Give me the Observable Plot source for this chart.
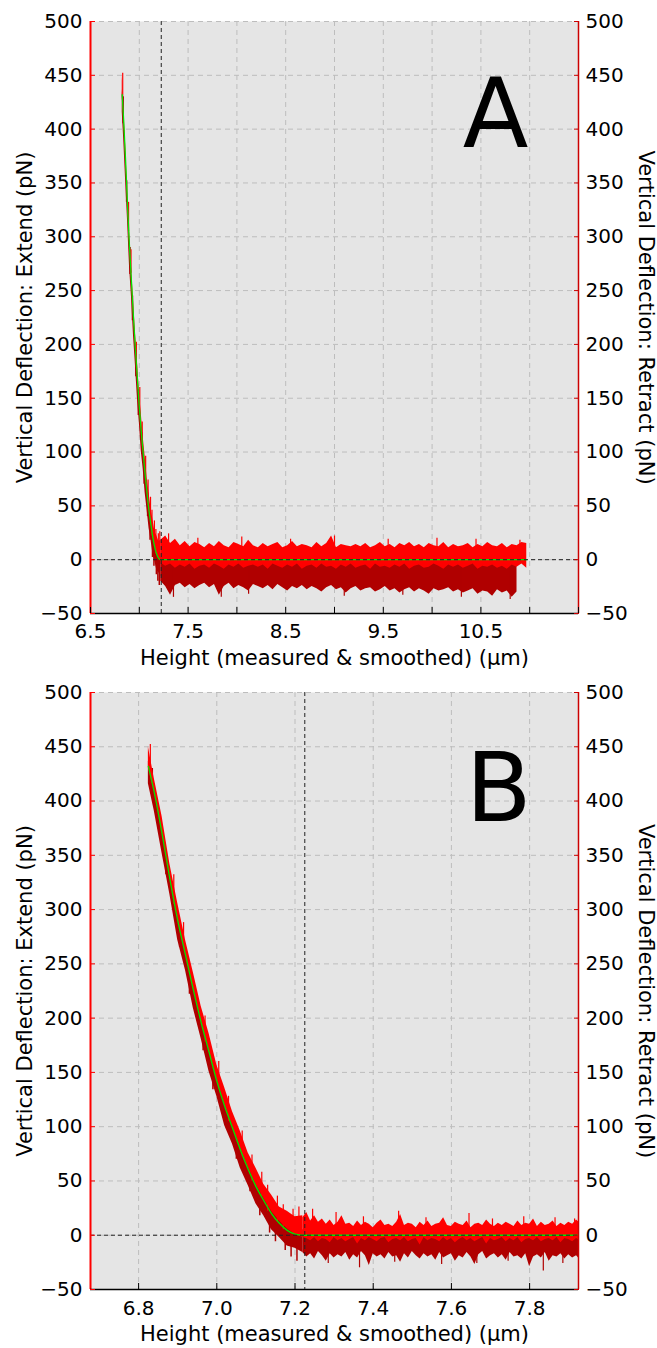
<!DOCTYPE html>
<html><head><meta charset="utf-8">
<script src="https://cdn.jsdelivr.net/npm/d3@7"></script>
<script src="https://cdn.jsdelivr.net/npm/@observablehq/plot@0.6"></script>
<style>
body{margin:0;background:#fff;}
#chart svg{display:block;}
</style>
</head><body><div id="chart"></div>
<script>
// ---------- axes ----------
const yTicks = [-50, 0, 50, 100, 150, 200, 250, 300, 350, 400, 450, 500];
const yDomain = [-50, 500];
const xDomainA = [6.5, 11.5];
const xTickMarksA = [6.5, 7.0, 7.5, 8.0, 8.5, 9.0, 9.5, 10.0, 10.5, 11.0, 11.5];
const xLabelsA = [6.5, 7.5, 8.5, 9.5, 10.5];
const xDomainB = [6.677, 7.925];
const xTickMarksB = [6.8, 7.0, 7.2, 7.4, 7.6, 7.8];
const xLabelsB = [6.8, 7.0, 7.2, 7.4, 7.6, 7.8];
const contactX = 7.225;
const titleX = "Height (measured & smoothed) (µm)";
const titleYL = "Vertical Deflection: Extend (pN)";
const titleYR = "Vertical Deflection: Retract (pN)";

// ---------- approach region (shared) ----------
const apX      = [6.825, 6.84, 6.86, 6.88, 6.90, 6.92, 6.94, 6.96, 6.98, 7.00, 7.02, 7.04, 7.06, 7.08, 7.10, 7.12, 7.14, 7.16, 7.18, 7.20, 7.22];
const apDarkLo = [416, 391, 352, 314, 272, 244, 209, 181, 151, 128, 101, 84, 62, 46, 29, 18, 5, -2, -10, -12, -16];
const apDarkHi = [437, 414, 376, 334, 296, 263, 232, 202, 175, 148, 125, 105, 85, 67, 51, 38, 26, 17, 11, 7, 5];
const apBrLo   = [430, 409, 372, 330, 292, 259, 228, 198, 171, 144, 121, 101, 81, 63, 47, 34, 22, 13, 6, 1, -2];
const apBrHi   = [450, 421, 386, 342, 306, 272, 242, 211, 186, 157, 136, 114, 96, 76, 62, 47, 37, 26, 22, 17, 18];
// approach noise spikes (x, low end, high end)
const apSpDkX  = [6.835, 6.87, 6.905, 6.93, 6.965, 6.99, 7.025, 7.05, 7.085, 7.11, 7.135, 7.15, 7.175, 7.19, 7.205];
const apSpDkLo = [405, 332, 265, 222, 170, 134, 98, 70, 40, 18, 2, -6, -14, -20, -24];
const apSpDkHi = [430, 352, 290, 245, 192, 158, 118, 92, 62, 40, 24, 18, 8, 5, 3];
const apSpBrX  = [6.83, 6.89, 6.915, 6.97, 7.005, 7.03, 7.065, 7.09, 7.115, 7.13, 7.155, 7.17, 7.195, 7.21];
const apSpBrLo = [430, 305, 266, 178, 135, 105, 72, 50, 36, 22, 12, 5, 2, 0];
const apSpBrHi = [452, 332, 288, 202, 160, 128, 96, 74, 58, 46, 36, 28, 24, 26];

// ---------- fit (green) ----------
const fitX = [6.825, 6.84, 6.86, 6.88, 6.90, 6.92, 6.94, 6.96, 6.98, 7.00, 7.02, 7.04, 7.06, 7.08, 7.10, 7.12, 7.14, 7.16, 7.18, 7.20, 7.22, 10.97];
const fitY = [432, 408, 370, 328, 290, 258, 226, 196, 169, 142, 119, 99, 79, 61, 45, 32, 20, 11, 4.5, 1, 0, 0];

// ---------- baseline, panel B (fine) ----------
const tbX = [7.22,7.23,7.24,7.25,7.26,7.27,7.28,7.29,7.30,7.31,
  7.32,7.33,7.34,7.35,7.36,7.37,7.38,7.39,7.40,7.41,
  7.42,7.43,7.44,7.45,7.46,7.47,7.48,7.49,7.50,7.51,
  7.52,7.53,7.54,7.55,7.56,7.57,7.58,7.59,7.60,7.61,
  7.62,7.63,7.64,7.65,7.66,7.67,7.68,7.69,7.70,7.71,
  7.72,7.73,7.74,7.75,7.76,7.77,7.78,7.79,7.80,7.81,
  7.82,7.83,7.84,7.85,7.86,7.87,7.88,7.89,7.90,7.91,
  7.92,7.93];
const tbBrHi = [16,21,13,18,12,15,10,14,9,12, 18,10,11,8,13,9,12,10,7,11, 14,9,10,8,12,19,9,11,10,7,
  12,9,13,8,10,11,16,9,8,12, 10,9,13,7,10,11,9,14,10,8, 11,9,12,10,8,13,9,11,10,15,
  8,12,9,10,13,8,11,9,12,10, 14,11];
const tbBrLo = [-2,-3,-5,-2,-6,-3,-4,-7,-2,-5, -3,-6,-4,-2,-8,-3,-5,-2,-4,-6, -3,-2,-7,-4,-3,-5,-2,-6,-4,-3,
  -9,-2,-5,-3,-4,-6,-2,-5,-3,-7, -4,-2,-5,-3,-6,-4,-2,-8,-3,-5, -4,-2,-6,-3,-5,-2,-7,-4,-3,-5,
  -2,-6,-4,-3,-5,-2,-7,-3,-4,-6, -3,-5];
const tbDkHi = [5,4,6,3,4,2,5,3,4,2, 3,1,4,2,3,1,2,4,1,3, 2,0,3,1,2,4,1,2,0,3,
  1,2,0,3,1,2,0,1,3,2, 0,2,1,3,0,2,1,0,2,1, 3,0,2,1,0,2,1,3,0,2,
  1,0,2,1,3,0,2,1,0,2, 1,0];
const tbDkLo = [-16,-20,-17,-22,-15,-19,-24,-17,-21,-18, -20,-16,-23,-18,-21,-15,-19,-28,-17,-20,
  -18,-22,-16,-20,-19,-25,-17,-21,-15,-19, -22,-17,-20,-18,-23,-16,-21,-19,-17,-24,
  -19,-21,-16,-20,-27,-18,-15,-22,-19,-17, -21,-18,-23,-16,-20,-19,-22,-17,-29,-20,
  -18,-21,-16,-24,-19,-20,-17,-22,-18,-21, -19,-23];
const spBrBx = [7.245, 7.305, 7.375, 7.465, 7.535, 7.645, 7.705, 7.785, 7.865, 7.915];
const spBrBy = [24, 21, 17, 22, 16, 20, 15, 17, 16, 15];
const spDkBx = [7.285, 7.365, 7.455, 7.575, 7.665, 7.745, 7.835, 7.885];
const spDkBy = [-26, -30, -25, -27, -26, -24, -33, -26];

// ---------- baseline, panel A (coarse) ----------
const taX = [7.22,7.27,7.32,7.37,7.42,7.47,7.52,7.57,7.62,7.67,
  7.72,7.77,7.82,7.87,7.92,7.97,8.02,8.07,8.12,8.17,
  8.22,8.27,8.32,8.37,8.42,8.47,8.52,8.57,8.62,8.67,
  8.72,8.77,8.82,8.87,8.92,8.97,9.02,9.07,9.12,9.17,
  9.22,9.27,9.32,9.37,9.42,9.47,9.52,9.57,9.62,9.67,
  9.72,9.77,9.82,9.87,9.92,9.97,10.02,10.07,10.12,10.17,
  10.22,10.27,10.32,10.37,10.42,10.47,10.52,10.57,10.62,10.67,
  10.72,10.77,10.82,10.87,10.92,10.97];
const taBrHi = [18,22,15,19,13,17,12,16,14,11, 15,12,17,13,11,16,14,12,18,13,
  11,15,12,14,16,11,13,17,12,14, 13,11,16,12,15,22,11,14,13,12,
  14,12,15,11,13,16,12,14,11,15, 13,16,12,14,11,15,13,12,16,11,
  14,12,13,15,11,14,12,16,13,12, 15,11,14,13,16,15];
const taBrLo = [-3,-6,-4,-8,-5,-7,-4,-9,-6,-5, -8,-4,-6,-9,-5,-7,-4,-8,-6,-5,
  -7,-5,-9,-4,-6,-8,-5,-7,-4,-9, -6,-5,-8,-4,-7,-6,-9,-5,-7,-4,
  -8,-6,-5,-9,-4,-7,-6,-8,-5,-7, -4,-9,-6,-5,-8,-7,-4,-6,-9,-5,
  -7,-5,-8,-6,-4,-9,-6,-7,-5,-8, -6,-9,-5,-7,-4,-8];
const taDkHi = [2,1,0,1,-1,0,1,-1,0,-2, 0,-1,-2,0,-1,-2,0,-1,-2,-1,
  -2,-1,0,-2,-1,-3,-1,-2,0,-2, -1,-3,-2,-1,-2,-3,-1,-2,-3,-1,
  -2,-3,-1,-2,-3,-2,-3,-1,-2,-3, -3,-2,-3,-3,-2,-3,-3,-2,-3,-3,
  -3,-3,-2,-3,-3,-2,-3,-3,-2,-3, -3,-2,-3,-2,null,null];
const taDkLo = [-20,-25,-33,-24,-22,-26,-23,-27,-24,-22, -26,-23,-33,-25,-22,-27,-24,-26,-29,-23,
  -25,-27,-24,-28,-23,-26,-29,-25,-27,-24, -28,-25,-27,-30,-26,-24,-28,-26,-31,-27,
  -25,-29,-27,-26,-30,-28,-25,-29,-27,-31, -28,-26,-30,-27,-29,-32,-27,-29,-28,-26,
  -30,-28,-31,-29,-27,-32,-29,-30,-34,-28, -31,-29,-35,-30,null,null];
const spBrAx = [7.30, 7.60, 8.05, 8.55, 9.00, 9.55, 10.05, 10.45, 10.90];
const spBrAy = [24, 20, 21, 19, 22, 19, 20, 19, 18];
const spDkAx = [7.35, 7.84, 8.12, 9.10, 9.70, 10.30, 10.80];
const spDkAy = [-35, -35, -32, -34, -33, -35, -37];

// ---------- styles ----------
const DARK = "#b00000", BRIGHT = "#ff0000", GREEN = "#00e600";
const FONT = "DejaVu Sans";

function band(xs, lo, hi) {
  return xs.map((x, i) => ({x, lo: lo[i], hi: hi[i]})).filter(d => d.lo != null && d.hi != null);
}
function pts(xs, ys) { return xs.map((x, i) => ({x, y: ys[i]})); }

function panel(o) {
  return Plot.plot({
    width: 657, height: 674,
    marginLeft: 90, marginRight: 79, marginTop: o.mt, marginBottom: o.mb,
    style: {fontFamily: FONT, fontSize: "20px", background: "white", color: "black"},
    x: {domain: o.xDomain, axis: null},
    y: {domain: yDomain, axis: null},
    marks: [
      Plot.frame({fill: "#e5e5e5", stroke: null}),
      Plot.ruleY(yTicks, {stroke: "#bdbdbd", strokeDasharray: "5,4"}),
      Plot.ruleX(o.xTickMarks, {stroke: "#bdbdbd", strokeDasharray: "5,4"}),
      // extend (dark red)
      Plot.areaY(band(apX, apDarkLo, apDarkHi), {x: "x", y1: "lo", y2: "hi", fill: DARK, clip: true}),
      Plot.ruleX(band(apSpDkX, apSpDkLo, apSpDkHi), {x: "x", y1: "lo", y2: "hi", stroke: DARK, strokeWidth: 1.5, clip: true}),
      Plot.areaY(band(o.tX, o.dkLo, o.dkHi), {x: "x", y1: "lo", y2: "hi", fill: DARK, clip: true}),
      Plot.ruleX(pts(o.spDkX, o.spDkY), {x: "x", y1: 0, y2: "y", stroke: DARK, strokeWidth: 1.2, clip: true}),
      // retract (bright red)
      Plot.areaY(band(apX, apBrLo, apBrHi), {x: "x", y1: "lo", y2: "hi", fill: BRIGHT, clip: true}),
      Plot.ruleX(band(apSpBrX, apSpBrLo, apSpBrHi), {x: "x", y1: "lo", y2: "hi", stroke: BRIGHT, strokeWidth: 1.2, clip: true}),
      Plot.areaY(band(o.tX, o.brLo, o.brHi), {x: "x", y1: "lo", y2: "hi", fill: BRIGHT, clip: true}),
      Plot.ruleX(pts(o.spBrX, o.spBrY), {x: "x", y1: 0, y2: "y", stroke: BRIGHT, strokeWidth: 1.2, clip: true}),
      // fit
      Plot.line(pts(fitX, fitY), {x: "x", y: "y", stroke: GREEN, strokeWidth: 1.3, curve: "monotone-x", clip: true}),
      // reference lines
      Plot.ruleY([0], {stroke: "#222", strokeDasharray: "4,3"}),
      Plot.ruleX([contactX], {stroke: "#222", strokeDasharray: "4,3"}),
      // spines
      Plot.ruleX([o.xDomain[0]], {stroke: "#ff0000", strokeWidth: 2}),
      Plot.ruleX([o.xDomain[1]], {stroke: "#cc0000", strokeWidth: 1.5}),
      Plot.ruleY([yDomain[0]], {stroke: "#000", strokeWidth: 1.5}),
      // axes
      Plot.axisY(yTicks, {anchor: "left", tickSize: -5, tickPadding: 13, stroke: "#ff0000", fill: "black", fontSize: 20, label: null}),
      Plot.axisY(yTicks, {anchor: "right", tickSize: -5, tickPadding: 12, stroke: "#cc0000", fill: "black", fontSize: 20, label: null}),
      Plot.axisX(o.xTickMarks, {anchor: "bottom", tickSize: -6, tickFormat: () => "", stroke: "black", label: null}),
      Plot.axisX(o.xLabels, {anchor: "bottom", tickSize: 0, tickPadding: o.tickPad, tickFormat: d3.format(".1f"), fill: "black", fontSize: 20, label: null}),
      // titles
      Plot.text([titleYL], {frameAnchor: "left", textAnchor: "middle", rotate: -90, dx: -65, fontSize: 21, fill: "black"}),
      Plot.text([titleYR], {frameAnchor: "right", textAnchor: "middle", rotate: 90, dx: 67, fontSize: 21, fill: "black"}),
      Plot.text([titleX], {frameAnchor: "bottom", dy: 51, fontSize: 21, fill: "black"}),
      Plot.text([o.letter], {frameAnchor: "top-right", textAnchor: "end", lineAnchor: "top", dx: o.letterDx, dy: o.letterDy, fontSize: 96, fill: "black"})
    ]
  });
}

const chart = document.getElementById("chart");
chart.appendChild(panel({
  mt: 21, mb: 61, xDomain: xDomainA, xTickMarks: xTickMarksA, xLabels: xLabelsA, tickPad: 10,
  tX: taX, dkLo: taDkLo, dkHi: taDkHi, brLo: taBrLo, brHi: taBrHi,
  spDkX: spDkAx, spDkY: spDkAy, spBrX: spBrAx, spBrY: spBrAy,
  letter: "A", letterDx: -50, letterDy: 57
}));
chart.appendChild(panel({
  mt: 18, mb: 59, xDomain: xDomainB, xTickMarks: xTickMarksB, xLabels: xLabelsB, tickPad: 11,
  tX: tbX, dkLo: tbDkLo, dkHi: tbDkHi, brLo: tbBrLo, brHi: tbBrHi,
  spDkX: spDkBx, spDkY: spDkBy, spBrX: spBrBx, spBrY: spBrBy,
  letter: "B", letterDx: -47, letterDy: 60
}));
</script>
</body></html>
